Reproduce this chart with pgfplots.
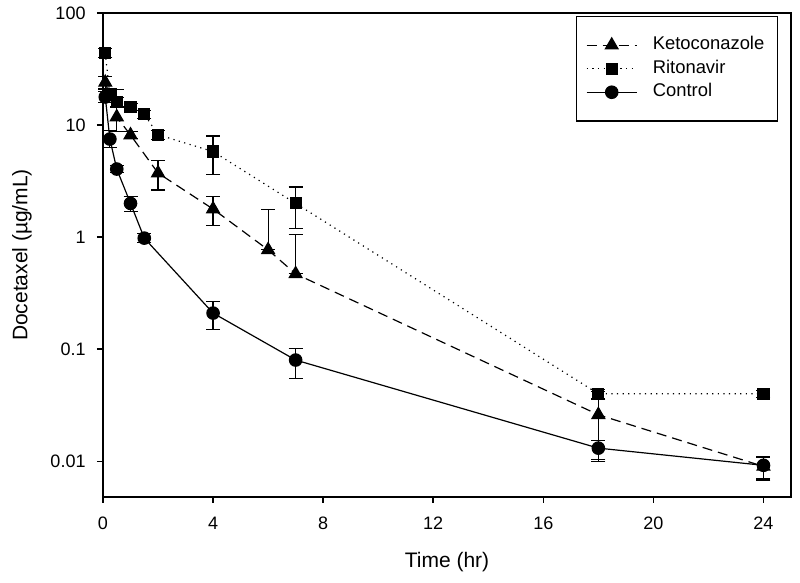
\documentclass[border=0pt]{standalone}
\usepackage{pgfplots}
\pgfplotsset{compat=1.18}
\usepackage{fontspec}
\setmainfont{Liberation Sans}
\usepackage{pgfplotstable}

\pgfplotstableread{
x      y      ep     em
0.083  24     3      3
0.5    11.8   9.0    3.1
1      8.15   0.6    0.6
2      3.73   1.1    1.1
4      1.78   0.52   0.52
6      0.77   1.0    0
7      0.47   0.59   0
18     0.026  0.016  0.016
24     0.009  0.002  0.002
}\keto

\pgfplotstableread{
x      y      ep     em
0.083  44     4      4
0.25   18.5   2.5    2.5
0.5    16     1.5    1.5
1      14.5   1.0    1.0
1.5    12.5   1.0    1.0
2      8.2    0.8    0.8
4      5.8    2.2    2.2
7      2.0    0.8    0.8
18     0.040  0.004  0.004
24     0.040  0.003  0.003
}\rito

\pgfplotstableread{
x      y      ep     em
0.083  17.8   2.0    2.0
0.25   7.5    1.4    1.2
0.5    4.05   0.3    0.3
1      2.0    0.3    0.3
1.5    0.98   0.09   0.09
4      0.21   0.055  0.060
7      0.080  0.022  0.025
18     0.0131 0.0022 0.0028
24     0.0092 0.0017 0.0024
}\ctrl

\begin{document}
\begin{tikzpicture}
\useasboundingbox (-51.5pt,-43pt) rectangle (348.5pt,248.5pt);
\begin{axis}[
  at={(0,0)}, anchor=south west, scale only axis,
  width=344pt, height=242pt,
  xmin=0, xmax=25, ymode=log, ymin=0.0048, ymax=100,
  clip=false,
  xtick={0,4,8,12,16,20,24},
  ytick={0.01,0.1,1,10,100},
  yticklabels={0.01,0.1,1,10,100},
  yminorticks=false, xminorticks=false,
  tick align=outside, tick pos=left, major tick length=3pt,
  axis line style={line width=0.75pt},
  every tick/.style={line width=0.75pt, black},
  /pgf/number format/assume math mode=true,
  tick label style={font=\fontsize{9}{10}\selectfont},
  xticklabel style={yshift=-3.5pt},
  yticklabel style={xshift=-2.2pt},
  label style={font=\fontsize{10.5}{12}\selectfont},
  xlabel={Time (hr)},
  ylabel={Docetaxel (µg/mL)},
  x label style={at={(axis description cs:0.5,-0.1343)}, anchor=center},
  y label style={at={(axis description cs:-0.1177,0.5)}, anchor=center, rotate=0},
  legend cell align=left,
  legend image code/.code={\draw[mark repeat=2,mark phase=2,#1] plot coordinates {(0pt,0pt) (12.5pt,0pt) (25pt,0pt)};},
  legend style={at={(0.981,0.994)}, anchor=north east, draw=black, line width=0.6pt,
    font=\fontsize{9.2}{11}\selectfont,
    inner xsep=4.75pt, inner ysep=8.5pt, column sep=6pt,
    nodes={inner sep=1.75pt, text height=6.5pt, text depth=1.75pt}},
  error bars/y dir=both, error bars/y explicit,
  error bars/error mark options={rotate=90, mark size=3.5pt, line width=0.6pt, solid, black},
  error bars/error bar style={line width=0.6pt, solid, black},
]
\addplot[black, line width=0.6pt, dash pattern=on 5pt off 3pt, mark=triangle*, mark size=3.65pt, mark options={solid, fill=black}]
  table[x=x, y=y, y error plus=ep, y error minus=em] {\keto};
\addlegendentry{Ketoconazole}
\addplot[black, line width=0.6pt, dash pattern=on 0.6pt off 2.2pt, mark=square*, mark size=2.75pt, mark options={solid, fill=black}]
  table[x=x, y=y, y error plus=ep, y error minus=em] {\rito};
\addlegendentry{Ritonavir}
\addplot[black, line width=0.6pt, mark=*, mark size=3.1pt, mark options={solid, fill=black}]
  table[x=x, y=y, y error plus=ep, y error minus=em] {\ctrl};
\addlegendentry{Control}
\end{axis}
\end{tikzpicture}
\end{document}
